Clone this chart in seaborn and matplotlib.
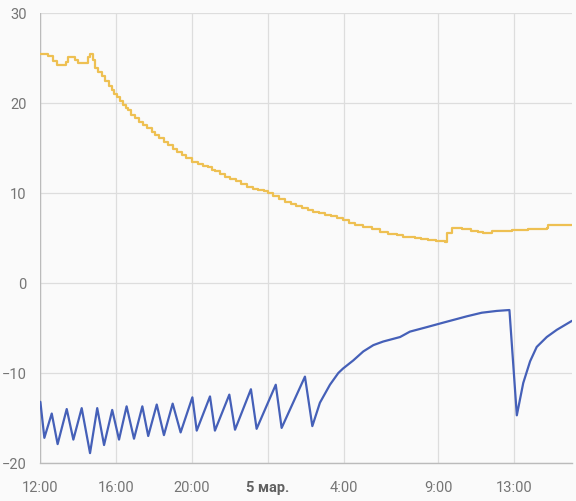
import numpy as np
import pandas as pd
import seaborn as sns
from matplotlib import pyplot as plt

# hours since 12:00, 4 March
yellow_h = [0.0, 0.40, 0.66, 0.88, 1.35, 1.46, 1.83, 1.98, 2.51, 2.62, 2.78, 2.88,
            3.06, 3.25, 3.41, 3.6, 3.76, 3.9, 4.04, 4.2, 4.37, 4.5, 4.64, 4.8, 4.99,
            5.2, 5.4, 5.6, 5.87, 6.05, 6.25, 6.5, 6.75, 7.0, 7.2, 7.46, 7.7, 8.0,
            8.33, 8.6, 8.86, 9.05, 9.21, 9.5, 9.74, 10.0, 10.3, 10.6, 10.89, 11.2,
            11.5, 11.8, 12.03, 12.3, 12.6, 12.91, 13.2, 13.5, 13.79, 14.1, 14.4,
            14.7, 15.02, 15.35, 15.64, 15.97, 16.3, 16.6, 17.0, 17.48, 17.9, 18.36,
            18.8, 19.15, 19.77, 20.1, 20.47, 20.9, 21.35, 21.46, 21.72, 22.23, 22.7,
            23.11, 23.37, 23.82, 24.87, 25.75, 26.72, 26.79, 28.05]
yellow_v = [25.4, 25.2, 24.7, 24.2, 24.6, 25.1, 24.8, 24.5, 25.1, 25.4, 24.8, 23.9,
            23.5, 23.0, 22.4, 21.9, 21.4, 21.0, 20.7, 20.2, 19.8, 19.5, 19.2, 18.7, 18.3,
            17.9, 17.6, 17.2, 16.8, 16.5, 16.1, 15.7, 15.3, 14.9, 14.6, 14.2, 13.9, 13.5,
            13.2, 13.0, 12.9, 12.6, 12.4, 12.1, 11.8, 11.6, 11.3, 11.0, 10.7, 10.5,
            10.3, 10.2, 10.0, 9.7, 9.3, 9.0, 8.8, 8.6, 8.3, 8.1, 7.9,
            7.8, 7.6, 7.4, 7.2, 7.0, 6.7, 6.4, 6.2, 6.0, 5.7, 5.5,
            5.3, 5.1, 5.0, 4.9, 4.8, 4.7, 4.6, 5.6, 6.1, 6.0, 5.8,
            5.7, 5.6, 5.8, 5.9, 6.0, 6.1, 6.4, 6.5]

blue_h = [0.0, 0.21, 0.60, 0.91, 1.39, 1.74, 2.18, 2.62, 3.00, 3.36, 3.79, 4.15,
          4.55, 4.94, 5.38, 5.69, 6.14, 6.52, 6.98, 7.40, 8.02, 8.25, 8.95, 9.21,
          9.97, 10.27, 11.11, 11.41, 12.42, 12.73, 13.96, 14.35, 14.75, 15.28,
          15.72, 15.97, 16.51, 17.04, 17.57, 18.09, 18.98, 19.50, 20.39, 21.26,
          21.97, 22.50, 23.29, 24.08, 24.75, 25.14, 25.48, 25.84, 26.19, 26.72,
          27.25, 28.05]
blue_v = [-13.2, -17.2, -14.5, -17.9, -14.0, -17.4, -13.9, -18.9, -13.9, -18.0, -14.1, -17.4,
          -13.7, -17.3, -13.7, -17.0, -13.5, -16.9, -13.4, -16.6, -12.7, -16.4, -12.6, -16.4,
          -12.4, -16.3, -11.8, -16.2, -11.3, -16.1, -10.4, -15.9, -13.3, -11.3,
          -10.0, -9.5, -8.6, -7.6, -6.9, -6.5, -6.0, -5.4, -4.9, -4.4,
          -4.0, -3.7, -3.3, -3.1, -3.0, -14.7, -11.1, -8.7, -7.1, -6.0,
          -5.2, -4.2]

tick_h = [0, 4, 8, 12, 16, 21, 25]
tick_labels = ["12:00", "16:00", "20:00", "5 мар.", "4:00", "9:00", "13:00"]
y_ticks = [-20, -10, 0, 10, 20, 30]

sns.set_style("whitegrid", {"axes.facecolor": "#fafafa", "grid.color": "#dddddd"})
plt.rcParams['font.family'] = ['Roboto', 'DejaVu Sans']

fig = plt.figure(figsize=(5.76, 5.01), dpi=100)
fig.patch.set_facecolor("#fafafa")
ax = fig.add_axes([0.0701, 0.0758, 0.9229, 0.8982])

df_y = pd.DataFrame({"h": yellow_h, "v": yellow_v})
df_b = pd.DataFrame({"h": blue_h, "v": blue_v})
sns.lineplot(data=df_y, x="h", y="v", ax=ax, color="#eec052", linewidth=1.6,
             drawstyle="steps-post")
sns.lineplot(data=df_b, x="h", y="v", ax=ax, color="#4560b8", linewidth=1.6)

ax.set_xlim(0, 28.05)
ax.set_ylim(-20, 30)
ax.set_xticks(tick_h)
ax.set_xticklabels(tick_labels)
ax.set_yticks(y_ticks)
ax.set_xlabel("")
ax.set_ylabel("")
ax.grid(True, color="#dddddd", linewidth=0.9)
for s in ["top", "right", "left"]:
    ax.spines[s].set_visible(False)
ax.spines["bottom"].set_color("#bbbbbb")
ax.spines["bottom"].set_linewidth(1.0)
ax.axvline(0, color="#bbbbbb", linewidth=1.0, zorder=1)
ax.tick_params(axis="both", length=7, color="#dddddd", labelcolor="#757575",
               labelsize=10.5, width=0.9)
ax.tick_params(axis="x", pad=6)
ax.tick_params(axis="y", pad=3)
for lbl in ax.get_xticklabels():
    if lbl.get_text() == "5 мар.":
        lbl.set_fontweight("bold")
        lbl.set_color("#616161")

fig.savefig("out.png", dpi=100, facecolor=fig.get_facecolor())
